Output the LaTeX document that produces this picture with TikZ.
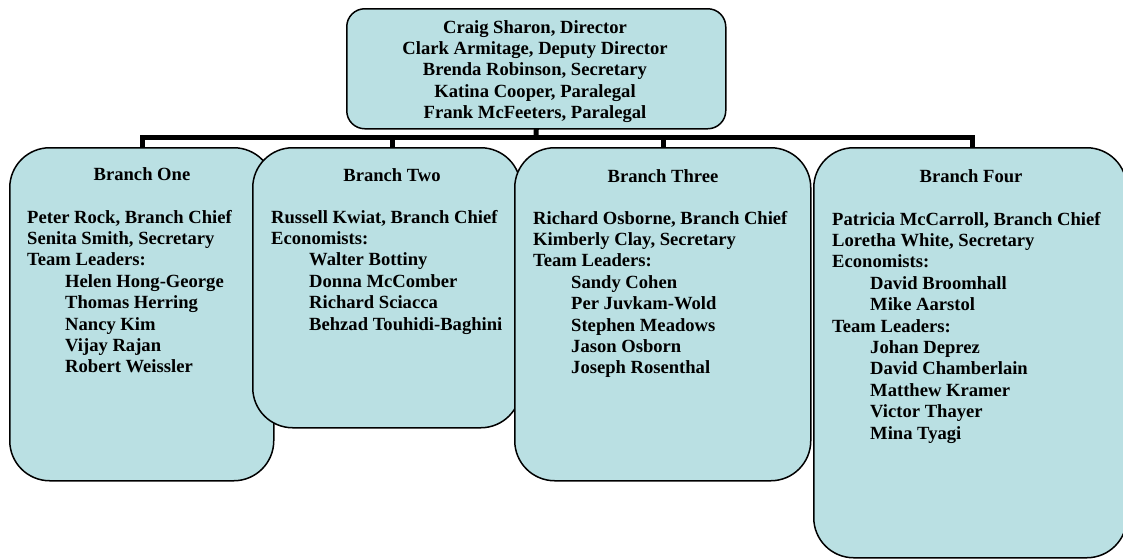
\documentclass[tikz,border=0pt]{standalone}
\usepackage{fontspec}
\setmainfont{Liberation Serif}
\pgfdeclarelayer{background}
\pgfsetlayers{background,main}
\begin{document}
\begin{tikzpicture}[x=1pt,y=-1pt,
  box/.style={draw=black,line width=1.5pt,fill=boxfill,rectangle,anchor=north west,inner sep=0pt},
  conn/.style={draw=black,line width=5pt,line join=miter,line cap=rect},
  txt/.style={inner sep=0pt,font=\bfseries\fontsize{18.6}{21.4}\selectfont,text=black},
  body/.style={txt,align=left,anchor=north west},
  ttl/.style={txt,anchor=base}]
\definecolor{boxfill}{RGB}{186,224,227}
\useasboundingbox (0,0) rectangle (1123,558);
\clip (0,0) rectangle (1123,558);
% boxes
\node[box,rounded corners=18pt,minimum width=379pt,minimum height=120pt] (top) at (346,8) {};
\node[box,rounded corners=40pt,minimum width=264pt,minimum height=333pt] (b1) at (9,147) {};
\node[box,rounded corners=40pt,minimum width=268pt,minimum height=280pt] (b2) at (252,147) {};
\node[box,rounded corners=40pt,minimum width=296pt,minimum height=333pt] (b3) at (514,147) {};
\node[box,rounded corners=40pt,minimum width=313pt,minimum height=410pt] (b4) at (813,147) {};
% connectors
\coordinate (bar) at (536,137);
\coordinate (d1) at (142,137);
\coordinate (d2) at (392,137);
\coordinate (d3) at (663,137);
\coordinate (d4) at (972,137);
\begin{pgfonlayer}{background}
\draw[conn] (top.south) -- (bar);
\draw[conn] (d1 |- b1.north) -- (d1) -- (d4) -- (d4 |- b4.north);
\draw[conn] (d2) -- (d2 |- b2.north);
\draw[conn] (d3) -- (d3 |- b3.north);
\end{pgfonlayer}
% top text
\node[txt,align=center,anchor=north] (toptext) at (535,18) {\strut Craig Sharon, Director\\
Clark Armitage, Deputy Director\hspace*{16pt}\\
Brenda Robinson, Secretary\\
Katina Cooper, Paralegal\\
Frank McFeeters, Paralegal};
% titles
\node[ttl] (t1) at (142,180) {Branch One};
\node[ttl] (t2) at (392,181) {Branch Two};
\node[ttl] (t3) at (663,182) {Branch Three};
\node[ttl] (t4) at (971,182) {Branch Four};
% bodies
\node[body] (x1) at (27,208) {\strut Peter Rock, Branch Chief\\
Senita Smith, Secretary\\
Team Leaders:\\
\hspace*{38pt}Helen Hong-George\\
\hspace*{38pt}Thomas Herring\\
\hspace*{38pt}Nancy Kim\\
\hspace*{38pt}Vijay Rajan\\
\hspace*{38pt}Robert Weissler};
\node[body] (x2) at (271,208) {\strut Russell Kwiat, Branch Chief\\
Economists:\\
\hspace*{38pt}Walter Bottiny\\
\hspace*{38pt}Donna McComber\\
\hspace*{38pt}Richard Sciacca\\
\hspace*{38pt}Behzad Touhidi-Baghini};
\node[body] (x3) at (533,209) {\strut Richard Osborne, Branch Chief\\
Kimberly Clay, Secretary\\
Team Leaders:\\
\hspace*{38pt}Sandy Cohen\\
\hspace*{38pt}Per Juvkam-Wold\\
\hspace*{38pt}Stephen Meadows\\
\hspace*{38pt}Jason Osborn\\
\hspace*{38pt}Joseph Rosenthal};
\node[body] (x4) at (832,210) {\strut Patricia McCarroll, Branch Chief\\
Loretha White, Secretary\\
Economists:\\
\hspace*{38pt}David Broomhall\\
\hspace*{38pt}Mike Aarstol\\
Team Leaders:\\
\hspace*{38pt}Johan Deprez\\
\hspace*{38pt}David Chamberlain\\
\hspace*{38pt}Matthew Kramer\\
\hspace*{38pt}Victor Thayer\\
\hspace*{38pt}Mina Tyagi};
\end{tikzpicture}
\end{document}
